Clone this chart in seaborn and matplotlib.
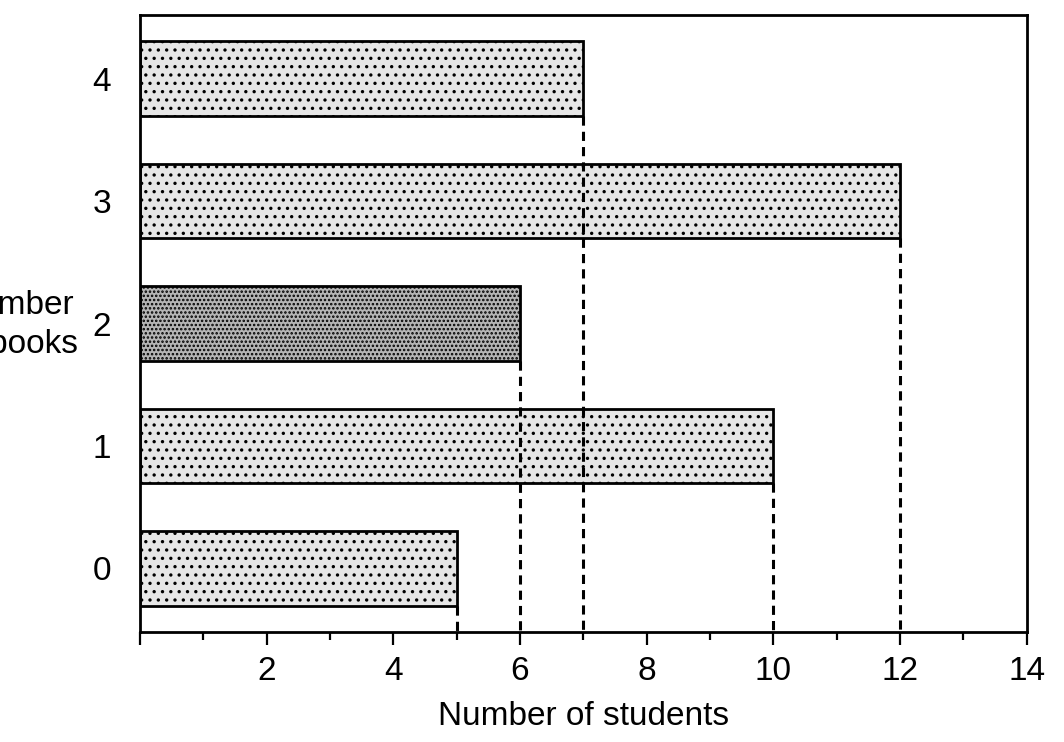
import pandas as pd
import seaborn as sns
import matplotlib.pyplot as plt

# values
books = ['4', '3', '2', '1', '0']
students = [7, 12, 6, 10, 5]
xtick_vals = [0, 2, 4, 6, 8, 10, 12, 14]
xtick_labels = ['', '2', '4', '6', '8', '10', '12', '14']

df = pd.DataFrame({'books': books, 'students': students})

sns.set_style('white')
plt.rcParams['font.family'] = ['Liberation Sans', 'DejaVu Sans']
plt.rcParams['hatch.linewidth'] = 1.2
plt.rcParams['hatch.color'] = '#555555'
plt.rcParams['text.color'] = 'black'
plt.rcParams['axes.labelcolor'] = 'black'
plt.rcParams['xtick.color'] = 'black'
plt.rcParams['ytick.color'] = 'black'

fig = plt.figure(figsize=(10.64, 7.42), dpi=100)
ax = fig.add_axes([0.1316, 0.148, 0.8334, 0.832])

sns.barplot(data=df, x='students', y='books', order=books, orient='h',
            width=0.61, color='#e6e6e6', edgecolor='black', linewidth=2,
            ax=ax)

# stippled look: darker fill for the '2 books' bar
for patch, cat in zip(ax.patches, books):
    if cat == '2':
        patch.set_facecolor('#b5b5b5')
        patch.set_hatch('....')
    else:
        patch.set_hatch('..')
    patch.set_edgecolor('black')

ax.set_xlim(0, 14)
ax.set_ylim(4.52, -0.52)

# dashed drop lines from each bar end to the x axis
ymax = ax.get_ylim()[0]
for patch in ax.patches:
    xe = patch.get_x() + patch.get_width()
    yb = patch.get_y() + patch.get_height()
    ax.vlines(xe, yb, ymax, colors='black', linestyles=(0, (3, 2)), linewidth=2.2, zorder=1)

ax.set_xticks(xtick_vals)
ax.set_xticklabels(xtick_labels)
ax.set_xticks(range(1, 14, 2), minor=True)
ax.tick_params(axis='x', which='major', direction='out', length=9, width=1.6,
               labelsize=24, pad=8, bottom=True)
ax.tick_params(axis='x', which='minor', direction='out', length=6, width=1.6, bottom=True)
ax.tick_params(axis='y', length=0, labelsize=24, pad=21)

for s in ax.spines.values():
    s.set_visible(True)
    s.set_color('black')
    s.set_linewidth(2)

ax.set_xlabel('Number of students', fontsize=24, labelpad=10)
ax.set_ylabel('Number\nof books', fontsize=24, rotation=0, ha='center', va='center',
              linespacing=1.35)
ax.yaxis.set_label_coords(-0.141, 0.498)

plt.savefig('out.png', dpi=100)
